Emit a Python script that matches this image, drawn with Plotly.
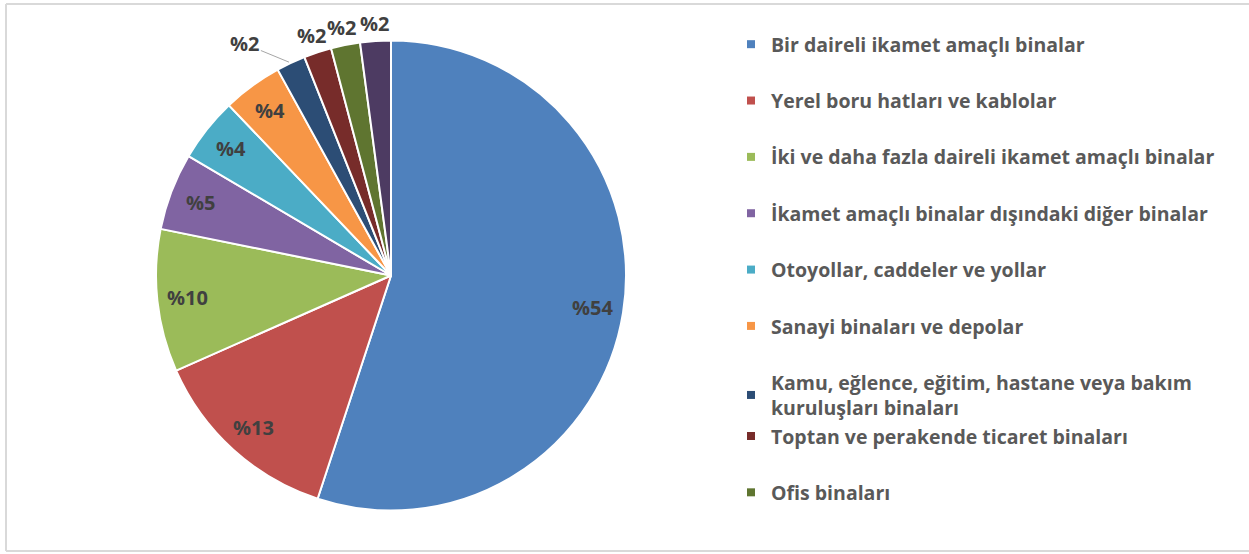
import math
import plotly.graph_objects as go

categories = [
    "Bir daireli ikamet amaçlı binalar",
    "Yerel boru hatları ve kablolar",
    "İki ve daha fazla daireli ikamet amaçlı binalar",
    "İkamet amaçlı binalar dışındaki diğer binalar",
    "Otoyollar, caddeler ve yollar",
    "Sanayi binaları ve depolar",
    "Kamu, eğlence, eğitim, hastane veya bakım<br>kuruluşları binaları",
    "Toptan ve perakende ticaret binaları",
    "Ofis binaları",
    "Diğer",
]
values = [55.0, 13.3, 9.8, 5.3, 4.4, 4.1, 2.0, 1.9, 2.0, 2.1]
labels_text = ["%54", "%13", "%10", "%5", "%4", "%4", "%2", "%2", "%2", "%2"]
label_outside = [False] * 6 + [True] * 4
label_leader = [False] * 6 + [True, False, False, False]
colors = ["#4F81BD", "#C0504D", "#9BBB59", "#8064A2", "#4BACC6",
          "#F79646", "#2C4D75", "#772C2A", "#5F7530", "#4D3B62"]
legend_count = 9
legend_groups = ["g1", "g2", "g3", "g4", "g5", "g6", "g7", "g7", "g8"]

W, H = 1249, 554
cx, cy, r = 391, 275.5, 235
FONT = "Open Sans"

fig = go.Figure()
fig.add_trace(go.Pie(
    labels=categories,
    values=values,
    textinfo="none",
    sort=False,
    direction="clockwise",
    rotation=0,
    marker=dict(colors=colors, line=dict(color="white", width=2)),
    showlegend=False,
    hoverinfo="label+percent",
    domain=dict(x=[(cx - r) / W, (cx + r) / W],
                y=[1 - (cy + r) / H, 1 - (cy - r) / H]),
))

# data labels placed along each slice's mid-angle (derived from values)
total = sum(values)
cum = 0.0
annotations = []
for v, txt, out, lead in zip(values, labels_text, label_outside, label_leader):
    mid = (cum + v / 2) / total * 2 * math.pi
    cum += v
    if out and lead:
        px = cx + r * math.sin(mid)
        py = cy - r * math.cos(mid)
        annotations.append(dict(
            x=px / W, y=1 - py / H, xref="paper", yref="paper",
            text=txt, showarrow=True, arrowhead=0, arrowwidth=1,
            arrowcolor="#A6A6A6", ax=-46, ay=-19, standoff=2,
            font=dict(family=FONT, size=20, color="#404040", weight="bold"),
        ))
        continue
    rr = r + 18 if out else 0.87 * r
    px = cx + rr * math.sin(mid)
    py = cy - rr * math.cos(mid)
    annotations.append(dict(
        x=px / W, y=1 - py / H, xref="paper", yref="paper",
        text=txt, showarrow=False, xanchor="center", yanchor="middle",
        font=dict(family=FONT, size=20, color="#404040", weight="bold"),
    ))

for i in range(legend_count):
    fig.add_trace(go.Scatter(
        x=[None], y=[None], mode="markers",
        name=categories[i],
        legendgroup=legend_groups[i],
        marker=dict(symbol="square", size=8, color=colors[i]),
        showlegend=True,
        hoverinfo="skip",
    ))

border = dict(color="#D9D9D9", width=2)
fig.update_layout(
    width=W, height=H,
    margin=dict(l=0, r=0, t=0, b=0, autoexpand=False),
    paper_bgcolor="white",
    plot_bgcolor="white",
    xaxis=dict(visible=False),
    yaxis=dict(visible=False),
    annotations=annotations,
    legend=dict(
        x=731 / W, y=1 - 25 / H, xanchor="left", yanchor="top",
        font=dict(family=FONT, size=19.5, color="#595959", weight="bold"),
        tracegroupgap=28,
        traceorder="grouped",
        itemsizing="trace",
        bgcolor="rgba(0,0,0,0)",
    ),
    shapes=[
        dict(type="line", xref="paper", yref="paper", x0=6 / W, x1=6 / W,
             y0=3 / H, y1=1 - 4 / H, line=border, layer="below"),
        dict(type="line", xref="paper", yref="paper", x0=6 / W, x1=1,
             y0=1 - 4 / H, y1=1 - 4 / H, line=border, layer="below"),
        dict(type="line", xref="paper", yref="paper", x0=6 / W, x1=1,
             y0=3 / H, y1=3 / H, line=border, layer="below"),
    ],
)

fig.write_html("out.html", config={"displayModeBar": False},
               post_script="document.body.style.margin='0';"
                           "document.body.style.overflow='hidden';")
